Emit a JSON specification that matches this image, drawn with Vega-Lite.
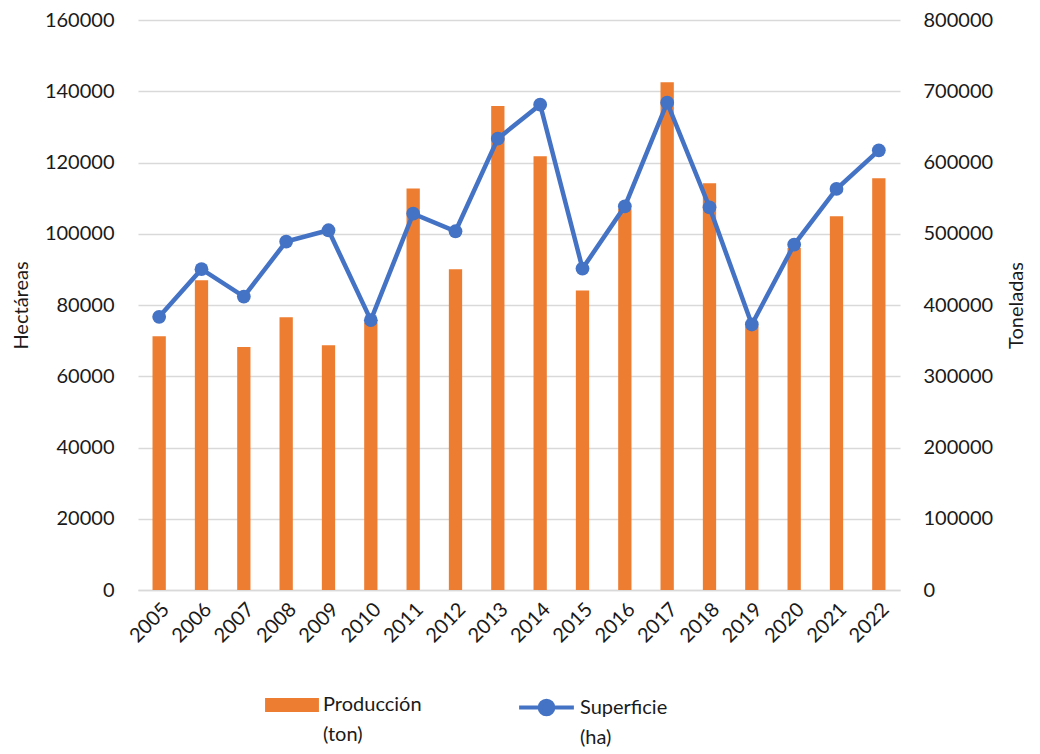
{
  "$schema": "https://vega.github.io/schema/vega-lite/v6.json",
  "width": 762,
  "height": 570,
  "autosize": "none",
  "padding": {"left": 138, "top": 20, "right": 140, "bottom": 164},
  "background": "white",
  "data": {
    "values": [
      {"year": "2005", "produccion": 356000, "superficie": 76670},
      {"year": "2006", "produccion": 434800, "superficie": 90040},
      {"year": "2007", "produccion": 341200, "superficie": 82370},
      {"year": "2008", "produccion": 382900, "superficie": 97800},
      {"year": "2009", "produccion": 343600, "superficie": 100980},
      {"year": "2010", "produccion": 375000, "superficie": 75740},
      {"year": "2011", "produccion": 563400, "superficie": 105660},
      {"year": "2012", "produccion": 450200, "superficie": 100700},
      {"year": "2013", "produccion": 679200, "superficie": 126700},
      {"year": "2014", "produccion": 608700, "superficie": 136240},
      {"year": "2015", "produccion": 420300, "superficie": 90230},
      {"year": "2016", "produccion": 535000, "superficie": 107700},
      {"year": "2017", "produccion": 712500, "superficie": 136800},
      {"year": "2018", "produccion": 570800, "superficie": 107430},
      {"year": "2019", "produccion": 370000, "superficie": 74530},
      {"year": "2020", "produccion": 480000, "superficie": 96970},
      {"year": "2021", "produccion": 524500, "superficie": 112570},
      {"year": "2022", "produccion": 577800, "superficie": 123420}
    ]
  },
  "encoding": {
    "x": {
      "field": "year",
      "type": "ordinal",
      "scale": {"paddingInner": 0.686, "paddingOuter": 0.343},
      "axis": {
        "title": null,
        "labelAngle": -45,
        "labelPadding": 9,
        "ticks": false,
        "domain": true,
        "domainColor": "#D9D9D9",
        "domainWidth": 1.3,
        "grid": false
      }
    }
  },
  "layer": [
    {
      "mark": {"type": "bar"},
      "encoding": {
        "y": {
          "field": "produccion",
          "type": "quantitative",
          "scale": {"domain": [0, 800000], "nice": false},
          "axis": {
            "orient": "right",
            "title": "Toneladas",
            "titleAngle": -90,
            "titleBaseline": "top",
            "values": [0, 100000, 200000, 300000, 400000, 500000, 600000, 700000, 800000],
            "format": "d",
            "grid": false,
            "ticks": false,
            "domain": false,
            "labelPadding": 23,
            "titlePadding": 14
          }
        },
        "color": {
          "datum": "Producción (ton)",
          "type": "nominal",
          "scale": {"range": ["#ED7D31"]},
          "legend": {
            "title": null,
            "orient": "none",
            "legendX": 127,
            "legendY": 658,
            "symbolType": "M-1,-0.26H1V0.26H-1Z",
            "symbolSize": 2900,
            "symbolStrokeWidth": 0,
            "labelExpr": "split(datum.label, ' ')",
            "labelBaseline": "middle",
            "labelLimit": 0,
            "encode": {"labels": {"update": {"lineHeight": {"value": 30}}}}
          }
        }
      }
    },
    {
      "mark": {
        "type": "line",
        "strokeWidth": 4.5,
        "point": {"filled": true, "size": 190}
      },
      "encoding": {
        "y": {
          "field": "superficie",
          "type": "quantitative",
          "scale": {"domain": [0, 160000], "nice": false},
          "axis": {
            "orient": "left",
            "title": "Hectáreas",
            "values": [0, 20000, 40000, 60000, 80000, 100000, 120000, 140000, 160000],
            "format": "d",
            "grid": true,
            "gridColor": "#D9D9D9",
            "gridWidth": 1.3,
            "ticks": false,
            "domain": false,
            "labelPadding": 24,
            "titlePadding": 13
          }
        },
        "color": {
          "datum": "Superficie (ha)",
          "type": "nominal",
          "scale": {"range": ["#4472C4"]},
          "legend": {
            "title": null,
            "orient": "none",
            "legendX": 379,
            "legendY": 658,
            "symbolType": "M-1,0H1M0.25,0A0.25,0.25,0,1,1,-0.25,0A0.25,0.25,0,1,1,0.25,0",
            "symbolSize": 3000,
            "symbolStrokeWidth": 4,
            "symbolFillColor": "#4472C4",
            "symbolStrokeColor": "#4472C4",
            "labelExpr": "split(datum.label, ' ')",
            "labelBaseline": "middle",
            "labelLimit": 0,
            "encode": {"labels": {"update": {"lineHeight": {"value": 30}}}}
          }
        }
      }
    }
  ],
  "resolve": {"scale": {"y": "independent", "color": "independent"}},
  "config": {
    "view": {"stroke": null},
    "font": "Lato",
    "axis": {
      "labelFont": "Lato",
      "labelFontSize": 20,
      "labelColor": "#1a1a1a",
      "titleFont": "Lato",
      "titleFontSize": 20,
      "titleFontWeight": "normal",
      "titleColor": "#1a1a1a"
    },
    "legend": {
      "labelFont": "Lato",
      "labelFontSize": 20,
      "labelColor": "#1a1a1a"
    }
  }
}
